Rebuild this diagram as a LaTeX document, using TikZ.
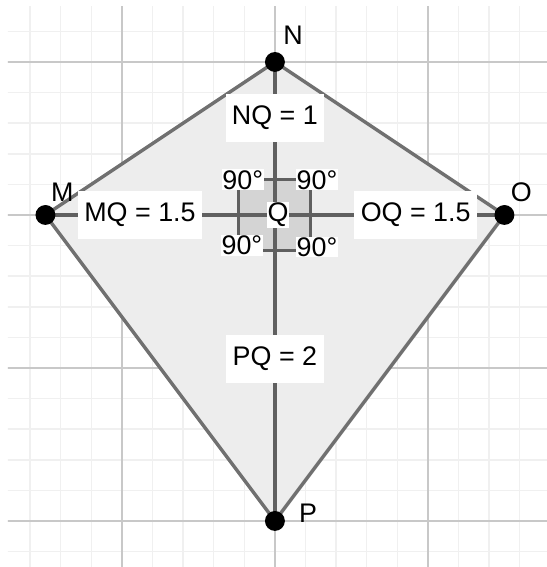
\documentclass[tikz,border=0pt]{standalone}
\usepackage{fontspec}
\setmainfont{Liberation Sans}
\usepackage{xcolor}
\usetikzlibrary{positioning}
\definecolor{minorgrid}{RGB}{240,240,240}
\definecolor{majorgrid}{RGB}{200,200,200}
\definecolor{kitefill}{RGB}{237,237,237}
\definecolor{kiteedge}{RGB}{112,112,112}
\definecolor{diagline}{RGB}{96,96,96}
\definecolor{anglefill}{RGB}{212,212,212}

\begin{document}
\begin{tikzpicture}[x=2.5cm,y=2.5cm,font=\fontsize{12.5}{15}\selectfont,
    lenlabel/.style={fill=white,inner xsep=3pt,minimum height=0.78cm},
    anglabel/.style={fill=white,inner sep=0.4pt},
    ptlabel/.style={inner sep=0pt}]
    \useasboundingbox (-1.797,-2.301) rectangle (1.778,1.405);
    \begin{scope}
        \clip (-1.745,-2.301) rectangle (1.778,1.36);
        \draw[minorgrid,line width=0.7pt,step=0.2] (-2,-2.4) grid (2,1.6);
        \draw[majorgrid,line width=0.7pt,step=1] (-2,-2.4) grid (2,1.6);
    \end{scope}
    \coordinate (M) at (-1.5,0);
    \coordinate (N) at (0,1);
    \coordinate (O) at (1.5,0);
    \coordinate (P) at (0,-2);
    \coordinate (Q) at (0,0);
    \filldraw[fill=kitefill,draw=kiteedge,line width=1.6pt,line join=round]
        (M)--(N)--(O)--(P)--cycle;
    \filldraw[fill=anglefill,draw=diagline,line width=1.4pt]
        (-0.235,-0.235) rectangle (0.235,0.235);
    \draw[diagline,line width=1.6pt] (M)--(O);
    \draw[diagline,line width=1.6pt] (N)--(P);
    \node[lenlabel] (NQ) at (0,0.634) {NQ = 1};
    \node[lenlabel] (MQ) at (-0.882,0) {MQ = 1.5};
    \node[lenlabel] (OQ) at (0.92,0) {OQ = 1.5};
    \node[lenlabel] (PQ) at (0,-0.94) {PQ = 2};
    \node[anglabel] (a1) at (-0.21,0.23) {90°};
    \node[anglabel] (a2) at (0.275,0.23) {90°};
    \node[anglabel] (a3) at (-0.216,-0.2) {90°};
    \node[anglabel] (a4) at (0.275,-0.21) {90°};
    \fill[black] (Q) circle (0.02);
    \node[anglabel] (lQ) at (0.02,0) {Q};
    \foreach \p in {M,N,O,P}
        \fill[black] (\p) circle (0.065);
    \node[ptlabel] (lN) at (0.118,1.176) {N};
    \node[ptlabel] (lM) at (-1.389,0.15) {M};
    \node[ptlabel] (lO) at (1.611,0.15) {O};
    \node[ptlabel] (lP) at (0.216,-1.948) {P};
\end{tikzpicture}
\end{document}
